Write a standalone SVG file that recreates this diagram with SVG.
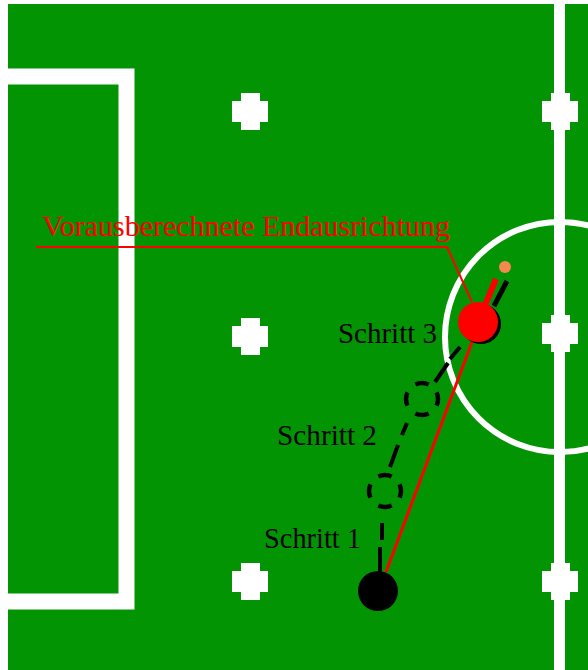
<svg xmlns="http://www.w3.org/2000/svg" width="588" height="670" viewBox="0 0 588 670">
  <defs>
    <style>
      .field { fill: #029402; }
      .line { fill: none; stroke: #ffffff; }
      .mark { fill: #ffffff; }
      .lbl { font-family: "Liberation Serif", "Times New Roman", serif; font-size: 29px; fill: #000000; }
      .title { font-family: "Liberation Serif", "Times New Roman", serif; font-size: 30px; fill: #ff0000; }
      .ghost { fill: none; stroke: #000000; stroke-width: 4.5; stroke-dasharray: 0.55 0.45; stroke-dashoffset: 0.275; }
      .path-dash { fill: none; stroke: #000000; stroke-width: 4; stroke-linecap: butt; }
    </style>
    <g id="cross">
      <rect x="-18" y="-10" width="36" height="21" />
      <rect x="-9" y="-18" width="19" height="37" />
    </g>
  </defs>

  <rect x="0" y="0" width="588" height="670" fill="#ffffff" />

  <g id="pitch">
    <rect class="field" x="8" y="4" width="580" height="666" />
    <path class="line" stroke-width="16" d="M8 76.5 H126.5 V601.5 H8" />
    <rect class="mark" x="554" y="4" width="11" height="666" />
    <circle class="line" cx="560" cy="337" r="115" stroke-width="6" />
    <use href="#cross" class="mark" x="250" y="111" fill="#ffffff" />
    <use href="#cross" class="mark" x="250" y="336" fill="#ffffff" />
    <use href="#cross" class="mark" x="250" y="581" fill="#ffffff" />
    <use href="#cross" class="mark" x="560" y="111" fill="#ffffff" />
    <use href="#cross" class="mark" x="560" y="333" fill="#ffffff" />
    <use href="#cross" class="mark" x="560" y="581" fill="#ffffff" />
  </g>

  <g id="connectors">
    <line x1="386" y1="572" x2="472" y2="342" stroke="#ff0000" stroke-width="3" />
    <line x1="380" y1="572" x2="380" y2="547" class="path-dash" stroke-width="5" />
    <line x1="382" y1="540" x2="382" y2="523" class="path-dash" />
    <line x1="390" y1="467" x2="398" y2="445" class="path-dash" stroke-width="5" />
    <line x1="402" y1="435" x2="407" y2="423" class="path-dash" />
    <line x1="435" y1="382" x2="448" y2="363" class="path-dash" stroke-width="5" />
    <line x1="450" y1="359" x2="460" y2="347" class="path-dash" />
    <path d="M36 247 H447 L472 302" fill="none" stroke="#ff0000" stroke-width="2" />
  </g>

  <g id="robot-start">
    <circle cx="378" cy="591" r="20" fill="#000000" />
  </g>

  <g id="step1">
    <circle class="ghost" cx="385" cy="491" r="16" pathLength="4" />
  </g>

  <g id="step2">
    <circle class="ghost" cx="422" cy="399" r="16" pathLength="4" />
  </g>

  <g id="robot-end">
    <line x1="494" y1="306" x2="507" y2="281" stroke="#000000" stroke-width="5" />
    <circle cx="481" cy="324" r="20" fill="#000000" />
    <circle cx="478" cy="322" r="20" fill="#ff0000" />
    <line x1="478" y1="322" x2="496" y2="279" stroke="#ff0000" stroke-width="6" />
    <circle cx="505" cy="267" r="6" fill="#f4884f" />
  </g>

  <g id="labels">
    <text class="title" x="42" y="236" textLength="408" lengthAdjust="spacingAndGlyphs">Vorausberechnete Endausrichtung</text>
    <text class="lbl" x="338" y="343" textLength="99" lengthAdjust="spacingAndGlyphs">Schritt 3</text>
    <text class="lbl" x="277" y="445" textLength="100" lengthAdjust="spacingAndGlyphs">Schritt 2</text>
    <text class="lbl" x="264" y="548" textLength="97" lengthAdjust="spacingAndGlyphs">Schritt 1</text>
  </g>
</svg>
